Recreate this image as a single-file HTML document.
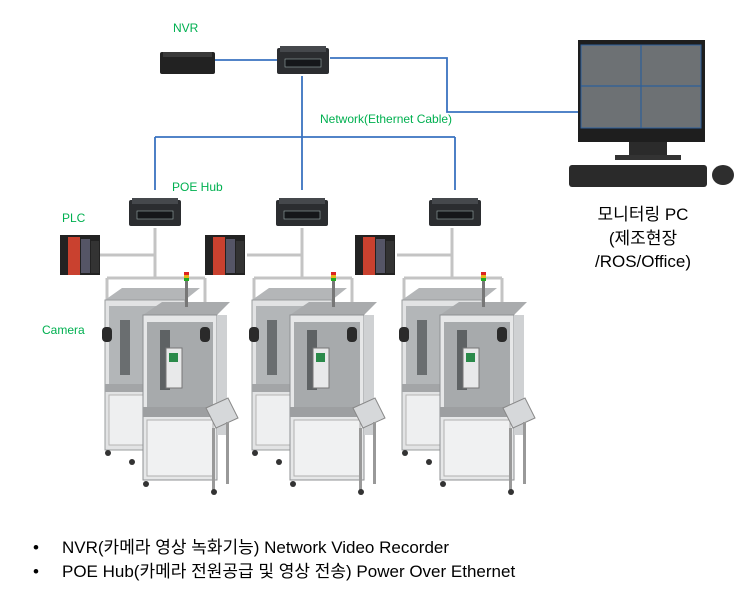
<!DOCTYPE html>
<html><head><meta charset="utf-8"><style>
html,body{margin:0;padding:0;background:#fff;}
svg{display:block}
text{font-family:"Liberation Sans","Noto Sans CJK KR",sans-serif;}
</style></head><body>
<svg width="753" height="609" viewBox="0 0 753 609" xmlns="http://www.w3.org/2000/svg">
<defs>
<g id="hub">
  <rect x="0" y="2" width="52" height="26" rx="2" fill="#2b2d30"/>
  <rect x="3" y="0" width="46" height="6" fill="#45484c"/>
  <rect x="8" y="13" width="36" height="8" fill="#15171a" stroke="#9aa" stroke-width="0.6"/>
</g>
<g id="plc">
  <rect x="0" y="0" width="40" height="40" fill="#222"/>
  <rect x="8" y="2" width="12" height="38" fill="#c9412f"/>
  <rect x="21" y="4" width="9" height="34" fill="#556"/>
  <rect x="31" y="6" width="8" height="32" fill="#333"/>
</g>
<g id="mach">
  <path d="M55 28 V78 M0 55 H55 M7 78 H105 M7 78 V130 M105 78 V130" stroke="#c4c4c4" stroke-width="3" fill="none"/>
  <!-- left cabinet -->
  <polygon points="5,100 22,88 100,88 85,100" fill="#b4b6b8"/>
  <rect x="5" y="100" width="80" height="150" fill="#e2e3e4" stroke="#9a9c9e"/>
  <rect x="9" y="106" width="72" height="78" fill="#b3b6b8"/>
  <rect x="20" y="120" width="10" height="55" fill="#6a6e70"/>
  <rect x="5" y="184" width="80" height="8" fill="#a3a5a7"/>
  <rect x="9" y="195" width="72" height="50" fill="#eeeff0" stroke="#b5b5b5"/>
  <!-- right cabinet -->
  <polygon points="43,115 62,102 130,102 117,115" fill="#a9abad"/>
  <rect x="43" y="115" width="74" height="165" fill="#e6e7e8" stroke="#8f9193"/>
  <rect x="47" y="122" width="66" height="85" fill="#a7aaac"/>
  <rect x="60" y="130" width="10" height="60" fill="#5e6264"/>
  <rect x="66" y="148" width="16" height="40" fill="#e8e9ea" stroke="#777"/>
  <rect x="69" y="153" width="9" height="9" fill="#2a8a4a"/>
  <rect x="43" y="207" width="74" height="10" fill="#9d9fa1"/>
  <rect x="47" y="220" width="66" height="56" fill="#f0f1f2" stroke="#b0b0b0"/>
  <rect x="117" y="115" width="10" height="120" fill="#cfd1d3"/>
  <!-- conveyor -->
  <polygon points="106,208 128,198 138,218 116,228" fill="#d6d8da" stroke="#888"/>
  <rect x="112" y="228" width="3" height="62" fill="#999"/>
  <rect x="126" y="222" width="3" height="62" fill="#999"/>
  <!-- feet -->
  <circle cx="8" cy="253" r="3" fill="#333"/><circle cx="32" cy="262" r="3" fill="#333"/>
  <circle cx="46" cy="284" r="3" fill="#333"/><circle cx="114" cy="292" r="3" fill="#333"/>
  <!-- tower light -->
  <rect x="85" y="80" width="3" height="27" fill="#777"/>
  <rect x="84" y="72" width="5" height="3" fill="#d22"/><rect x="84" y="75" width="5" height="3" fill="#e9b21a"/><rect x="84" y="78" width="5" height="3" fill="#2a2"/>
  <!-- cameras -->
  <rect x="2" y="127" width="10" height="15" rx="4" fill="#2a2a2a"/>
  <rect x="100" y="127" width="10" height="15" rx="4" fill="#2a2a2a"/>
</g>
</defs>

<g stroke="#3a73c0" stroke-width="1.8" fill="none">
  <path d="M215 60 H278"/>
  <path d="M330 58 H447 V112 H580"/>
  <path d="M302 76 V137"/>
  <path d="M155 137 H455"/>
  <path d="M155 137 V190 M302 137 V190 M455 137 V190"/>
</g>

<rect x="160" y="52" width="55" height="22" rx="2" fill="#222"/>
<rect x="163" y="52" width="49" height="5" fill="#3a3a3a"/>
<use href="#hub" x="277" y="46"/>

<g transform="translate(100,200)"><use href="#mach"/></g>
<g transform="translate(247,200)"><use href="#mach"/></g>
<g transform="translate(397,200)"><use href="#mach"/></g>
<use href="#hub" x="129" y="198"/>
<use href="#hub" x="276" y="198"/>
<use href="#hub" x="429" y="198"/>
<use href="#plc" x="60" y="235"/>
<use href="#plc" x="205" y="235"/>
<use href="#plc" x="355" y="235"/>

<rect x="578" y="40" width="127" height="102" fill="#1e1e1e"/>
<rect x="581" y="45" width="120" height="83" fill="#6d7174" stroke="#2d5f9a"/>
<path d="M641 45 V128 M581 86 H701" stroke="#2d5f9a" stroke-width="1.2"/>
<rect x="629" y="142" width="38" height="16" fill="#2b2b2b"/>
<rect x="615" y="155" width="66" height="5" fill="#333"/>
<rect x="569" y="165" width="138" height="22" rx="3" fill="#2a2a2a"/>
<ellipse cx="723" cy="175" rx="11" ry="10" fill="#2e2e2e"/>

<g fill="#00b050" font-size="12">
  <text x="173" y="32">NVR</text>
  <text x="320" y="123">Network(Ethernet Cable)</text>
  <text x="172" y="191">POE Hub</text>
  <text x="62" y="222">PLC</text>
  <text x="42" y="334">Camera</text>
</g>
<g fill="#000" font-size="17" text-anchor="middle">
  <text x="643" y="220">모니터링 PC</text>
  <text x="643" y="244">(제조현장</text>
  <text x="643" y="267">/ROS/Office)</text>
</g>
<g fill="#000" font-size="17">
  <text x="33" y="553">•</text>
  <text x="62" y="553">NVR(카메라 영상 녹화기능) Network Video Recorder</text>
  <text x="33" y="577">•</text>
  <text x="62" y="577">POE Hub(카메라 전원공급 및 영상 전송) Power Over Ethernet</text>
</g>
</svg>
</body></html>
